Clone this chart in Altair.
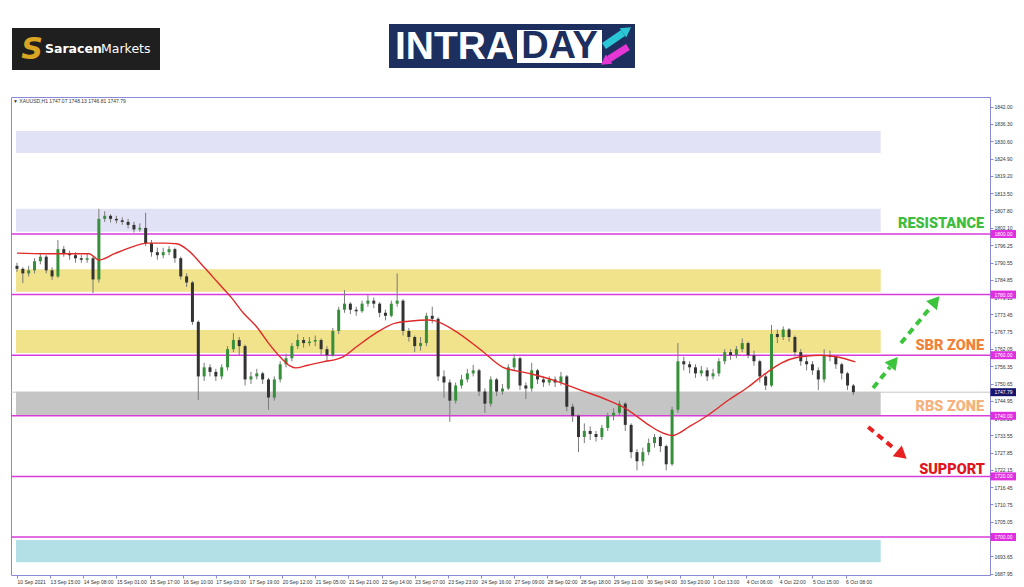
import altair as alt
import pandas as pd

# ---------------- data ----------------
x_labels = ["10 Sep 2021", "13 Sep 15:00", "14 Sep 08:00", "15 Sep 01:00", "15 Sep 17:00",
            "16 Sep 10:00", "17 Sep 03:00", "17 Sep 19:00", "20 Sep 12:00", "21 Sep 05:00",
            "21 Sep 21:00", "22 Sep 14:00", "23 Sep 07:00", "23 Sep 23:00", "24 Sep 16:00",
            "27 Sep 09:00", "28 Sep 02:00", "28 Sep 18:00", "29 Sep 11:00", "30 Sep 04:00",
            "30 Sep 20:00", "1 Oct 13:00", "4 Oct 06:00", "4 Oct 22:00", "5 Oct 15:00", "6 Oct 08:00"]
bars_per_label = 17
bars_per_candle = 3

y_ticks = [1842.00, 1836.30, 1830.60, 1824.90, 1819.20, 1813.50, 1807.80, 1802.10, 1796.25,
           1790.55, 1784.85, 1779.15, 1773.45, 1767.75, 1762.05, 1756.35, 1750.65, 1744.95,
           1739.25, 1733.55, 1727.85, 1722.15, 1716.45, 1710.75, 1705.05, 1699.35, 1693.65, 1687.95]

first_open = 1789.5
closes = [1788.5, 1787, 1788, 1791, 1792.5, 1788, 1786, 1795, 1793.5, 1793,
          1792, 1791.5, 1792, 1785, 1805, 1806, 1805, 1804.5, 1804, 1803,
          1801.5, 1802, 1797, 1794, 1793, 1794, 1795, 1792, 1786, 1784,
          1771, 1753, 1756, 1754.5, 1753, 1756, 1762, 1765, 1763, 1752,
          1753, 1754, 1752, 1746, 1752, 1757, 1759, 1763, 1765, 1764,
          1764.5, 1765, 1762, 1760, 1768, 1775, 1777, 1775, 1774.5, 1777,
          1778, 1777, 1774, 1773, 1777, 1778, 1768, 1766, 1763, 1764,
          1773, 1772, 1753, 1751, 1745, 1750, 1752, 1754, 1755, 1748,
          1744, 1752, 1748, 1749, 1756, 1759, 1750, 1749, 1755, 1752,
          1751, 1752, 1751, 1753, 1743, 1740, 1733, 1735, 1734, 1733,
          1736, 1740, 1741, 1744, 1737, 1728, 1725, 1728, 1731, 1733,
          1730, 1724, 1742, 1758, 1757, 1756, 1754, 1755, 1753, 1754,
          1758, 1761, 1760, 1762, 1764, 1760, 1758, 1753, 1750, 1767,
          1766, 1768.5, 1766, 1761, 1758, 1757, 1755, 1752, 1760, 1759.5,
          1757, 1754, 1750, 1747.79]
highs = [1790.5, 1789, 1789.5, 1792, 1793.8, 1793, 1789, 1798, 1796, 1794.5,
         1794, 1793, 1793.5, 1792.5, 1808.3, 1807.5, 1806.5, 1806, 1805.5, 1805,
         1804, 1803.5, 1807, 1798, 1795.5, 1795.5, 1796, 1795.5, 1792.5, 1787,
         1784.5, 1771.5, 1757.5, 1757, 1755.5, 1757, 1763, 1767.3, 1766, 1763.5,
         1754.5, 1755.5, 1754.5, 1752.5, 1753, 1758, 1760.5, 1764, 1767, 1766,
         1766, 1766.5, 1765.5, 1763, 1769, 1776, 1781.5, 1777.5, 1776, 1778,
         1779.8, 1779, 1777.5, 1775, 1778, 1787, 1778.5, 1769, 1766.5, 1766,
         1774, 1776, 1772.5, 1755, 1752, 1751, 1753.5, 1755.5, 1756.8, 1755.5,
         1749, 1753, 1752.5, 1750.5, 1757, 1760.3, 1759.5, 1751, 1757.5, 1755.5,
         1753, 1753, 1753, 1754.5, 1753.5, 1744, 1740.5, 1737.5, 1736.5, 1735,
         1737, 1741, 1742.5, 1745, 1744.5, 1737.5, 1729, 1729.5, 1732.5, 1734,
         1733.5, 1730.5, 1743, 1764, 1759.5, 1758, 1757, 1756.5, 1756, 1755.5,
         1759, 1762, 1762, 1763, 1765.5, 1764.5, 1761.5, 1758.5, 1754, 1770,
         1768.5, 1769.5, 1769, 1766.5, 1762, 1759.5, 1758, 1756, 1762, 1761.5,
         1760, 1757.5, 1754.5, 1750.5]
lows = [1787.5, 1783.8, 1786, 1787, 1790, 1787, 1784.8, 1785.5, 1792.5, 1791.5,
        1790.5, 1790.5, 1790.5, 1780.5, 1784, 1804, 1803.8, 1803.5, 1803, 1801.8,
        1800.5, 1800.8, 1796, 1792.5, 1791.5, 1792, 1793, 1790.5, 1785, 1782.5,
        1770, 1745.2, 1751.5, 1753, 1751.5, 1752, 1755, 1761, 1760, 1750,
        1750.5, 1752, 1750.5, 1742, 1745, 1751, 1756, 1758, 1762, 1762.5,
        1763, 1763, 1760, 1758, 1759.5, 1767, 1774, 1773.5, 1773, 1774,
        1776, 1775.5, 1772.5, 1771.5, 1772.5, 1776, 1766.5, 1764.5, 1761, 1761.5,
        1763, 1770.5, 1751.5, 1746, 1738, 1744, 1749, 1751, 1753, 1746.5,
        1741, 1743, 1746.5, 1747, 1748.5, 1755, 1748.5, 1745.5, 1748, 1750.5,
        1749.5, 1750, 1749.5, 1750, 1741.5, 1738, 1728, 1731, 1732, 1731.5,
        1732, 1735, 1738.5, 1740, 1735, 1726, 1722, 1723.5, 1727, 1729.5,
        1728, 1722, 1723.5, 1741, 1755, 1754, 1752.5, 1753, 1751.5, 1752,
        1753, 1757, 1758.5, 1759, 1761, 1759, 1756.5, 1751, 1748.5, 1749.5,
        1764, 1765, 1764.5, 1759.5, 1756.5, 1755, 1753.5, 1748.5, 1751, 1758,
        1755.5, 1752, 1748.5, 1746.81]
assert len(closes) == len(highs) == len(lows)

ma_bar = [0, 15, 37, 42, 50, 58, 67, 76, 82, 88, 96, 103, 110, 116, 123, 129, 135, 140, 143,
          149, 157, 167, 174, 184, 194, 201, 211, 214, 224, 238, 249, 262, 275, 289, 303, 311,
          324, 329, 336, 345, 353, 365, 375, 384, 392, 401, 412, 421, 430]
ma_val = [1793.7, 1793.5, 1793.5, 1791.4, 1793.5, 1795.5, 1797, 1797, 1796.8, 1794.5, 1789,
          1784, 1779, 1774, 1769.3, 1764, 1759.4, 1756.5, 1755.8, 1756.7, 1757.8, 1759.4,
          1762.7, 1767.3, 1770.6, 1771.2, 1771.6, 1771.4, 1768.3, 1761.7, 1756.1, 1754.1,
          1751.8, 1748.5, 1745.2, 1742.9, 1737, 1735, 1733.5, 1736.5, 1739.6, 1745.2, 1749.5,
          1754, 1757.4, 1759.4, 1760, 1759.4, 1757.8]

zone_lo = [1826.7, 1800.7, 1780.9, 1760.7, 1740.3, 1691.7]
zone_hi = [1834.0, 1808.3, 1788.4, 1768.3, 1747.9, 1699.0]
zone_col = ["#e2e2f6", "#e2e2f6", "#f1e28c", "#f1e28c", "#c5c5c5", "#b3e0e7"]
zone_end_bar = 443

levels = [1800, 1780, 1760, 1740, 1720, 1700]
bid = 1747.79
header = "\u25bc XAUUSD,H1  1747.07 1748.13 1746.81 1747.79"

ann_text = ["RESISTANCE", "SBR ZONE", "RBS ZONE", "SUPPORT"]
ann_bar = [496, 496, 496, 496.5]
ann_price = [1803.3, 1763.0, 1742.9, 1722.1]
ann_col = ["#3dbd3d", "#f0823a", "#f6b17c", "#e0161c"]

arr_x0 = [453.4, 439.1, 436.6]
arr_y0 = [1764.0, 1749.2, 1736.3]
arr_x1 = [469.1, 447.8, 450.8]
arr_y1 = [1776.2, 1756.1, 1728.7]
head_x = [471.1, 449.8, 453.9]
head_y = [1777.9, 1757.8, 1727.1]
head_angle = [40, 39, 130]
arr_col = ["#3cc43c", "#3cc43c", "#e8201f"]

# ---------------- tables ----------------
candles = pd.DataFrame({
    "bar": [bars_per_candle * k for k in range(len(closes))],
    "open": [first_open] + closes[:-1],
    "close": closes,
    "high": highs,
    "low": lows,
})
candles["dir"] = ["up" if c >= o else "down" for o, c in zip(candles["open"], candles["close"])]
ma = pd.DataFrame({"bar": ma_bar, "ma": ma_val})
zones = pd.DataFrame({"x0": [-0.5] * len(zone_lo), "x1": [zone_end_bar] * len(zone_lo),
                      "lo": zone_lo, "hi": zone_hi, "col": zone_col})
lv = pd.DataFrame({"level": levels})
plabels = pd.DataFrame({"p": levels + [bid],
                        "lab": [f"{v:.2f}" for v in levels + [bid]],
                        "col": ["#e02fe0"] * len(levels) + ["#16166e"]})
ann = pd.DataFrame({"bar": ann_bar, "price": ann_price, "text": ann_text, "col": ann_col})
arrows = pd.DataFrame({"x0": arr_x0, "y0": arr_y0, "x1": arr_x1, "y1": arr_y1,
                       "hx": head_x, "hy": head_y, "ang": head_angle, "col": arr_col})

# ---------------- scales / axes ----------------
W, H = 979, 478
FRAME = "#8a8ad6"
xs = alt.Scale(domain=[-0.5, 496.5], nice=False, zero=False)
ys = alt.Scale(domain=[1687.46, 1845.21], nice=False, zero=False)
label_expr = "[" + ",".join(f"'{s}'" for s in x_labels) + "][round(datum.value/17)]"
x_axis = alt.Axis(values=[i * bars_per_label for i in range(len(x_labels))], labelExpr=label_expr,
                  labelAlign="left", labelFontSize=5, labelFont="Liberation Sans",
                  labelColor="#333333", tickSize=3, tickColor=FRAME, domain=False, grid=False,
                  labelPadding=1, title=None, labelOverlap=False, labelBound=False, labelFlush=False)
y_axis = alt.Axis(orient="right", values=y_ticks, format=".2f", labelFontSize=5,
                  labelFont="Liberation Sans", labelColor="#333333", tickSize=3, tickColor=FRAME,
                  domainColor=FRAME, grid=False, title=None, labelPadding=1,
                  labelOverlap=False, labelBound=False, labelFlush=False)


def X(field):
    return alt.X(field, scale=xs, axis=x_axis)


def Y(field):
    return alt.Y(field, scale=ys, axis=y_axis)


one = pd.DataFrame({"a": [0]})


def box(x1, x2, y1, y2, color, **kw):
    return alt.Chart(one).mark_rect(color=color, **kw).encode(
        x=alt.value(x1), x2=alt.value(x2), y=alt.value(y1), y2=alt.value(y2))


def txt(x, y, s, **kw):
    return alt.Chart(one).mark_text(text=s, **kw).encode(x=alt.value(x), y=alt.value(y))


def seg(x1, y1, x2, y2, color, w):
    return alt.Chart(one).mark_rule(color=color, strokeWidth=w).encode(
        x=alt.value(x1), y=alt.value(y1), x2=alt.value(x2), y2=alt.value(y2))


def head(x, y, ang, color, size):
    return alt.Chart(one).mark_point(shape="triangle-up", filled=True, size=size, angle=ang,
                                     color=color, opacity=1).encode(x=alt.value(x), y=alt.value(y))


# ---------------- layers ----------------
zone_layer = alt.Chart(zones).mark_rect().encode(
    x=X("x0:Q"), x2="x1:Q", y=Y("lo:Q"), y2="hi:Q", color=alt.Color("col:N", scale=None))

level_layer = alt.Chart(lv).mark_rule(color="#d83cd8", strokeWidth=1.5).encode(y=Y("level:Q"))

bid_layer = alt.Chart(pd.DataFrame({"p": [bid]})).mark_rule(color="#c8c8c8", strokeWidth=1).encode(
    y=Y("p:Q"))

wick_layer = alt.Chart(candles).mark_rule(color="#7a7a7a", strokeWidth=1).encode(
    x=X("bar:Q"), y=Y("low:Q"), y2="high:Q")

body_layer = alt.Chart(candles).mark_bar(width=3).encode(
    x=X("bar:Q"), y=Y("open:Q"), y2="close:Q",
    color=alt.Color("dir:N", scale=alt.Scale(domain=["up", "down"], range=["#368f3a", "#333333"]),
                    legend=None))

ma_layer = alt.Chart(ma).mark_line(color="#e02a2a", strokeWidth=1.4, interpolate="monotone").encode(
    x=X("bar:Q"), y=Y("ma:Q"))

ann_layer = alt.Chart(ann).mark_text(
    align="right", baseline="middle", fontSize=14.5, fontWeight=900, font="Roboto").encode(
    x=X("bar:Q"), y=Y("price:Q"), text="text:N", color=alt.Color("col:N", scale=None))

arrow_layer = alt.Chart(arrows).mark_rule(strokeWidth=4, strokeDash=[7, 5]).encode(
    x=X("x0:Q"), y=Y("y0:Q"), x2="x1:Q", y2="y1:Q", color=alt.Color("col:N", scale=None))

head_layer = alt.Chart(arrows).mark_point(shape="triangle-up", filled=True, size=200, opacity=1).encode(
    x=X("hx:Q"), y=Y("hy:Q"), angle=alt.Angle("ang:Q", scale=None),
    color=alt.Color("col:N", scale=None))

plabel_box = alt.Chart(plabels).mark_tick(orient="horizontal", size=26, thickness=8, opacity=1).encode(
    x=alt.value(992.5), y=Y("p:Q"), color=alt.Color("col:N", scale=None))

plabel_txt = alt.Chart(plabels).mark_text(fontSize=5, color="white", align="center",
                                          baseline="middle", font="Liberation Sans").encode(
    x=alt.value(992.5), y=Y("p:Q"), text="lab:N")

header_layer = txt(2, 4, header, fontSize=5, align="left", baseline="middle",
                   color="#333333", font="Liberation Sans")

# logos (above the plot frame)
logos = [
    box(1, 149, -69, -27, "#1f1f1f"),
    txt(21, -47, "S", fontSize=30, fontWeight="bold", fontStyle="italic", color="#d9a522",
        font="DejaVu Sans", align="center", baseline="middle"),
    txt(34, -48, "Saracen", fontSize=12.5, fontWeight="bold", color="white",
        font="DejaVu Sans", align="left", baseline="middle"),
    txt(90, -48, "Markets", fontSize=12.5, color="white",
        font="DejaVu Sans", align="left", baseline="middle"),
    box(378, 624, -73, -29, "#1c2f5e"),
    box(506, 591, -67, -34, "#ffffff"),
    txt(384, -50, "INTRA", fontSize=39, fontWeight="bold", color="white",
        font="Liberation Sans", align="left", baseline="middle"),
    txt(548.5, -50, "DAY", fontSize=38, fontWeight="bold", color="#1c2f5e",
        font="Liberation Sans", align="center", baseline="middle"),
    seg(593, -51, 612, -64, "#2bc6d6", 7),
    head(616, -67, 55, "#2bc6d6", 130),
    seg(617, -50, 598, -38, "#e636d6", 7),
    head(594, -35, 235, "#e636d6", 130),
]

chart = alt.layer(
    zone_layer, level_layer, bid_layer, wick_layer, body_layer, ma_layer,
    ann_layer, arrow_layer, head_layer, plabel_box, plabel_txt, header_layer, *logos
).properties(
    width=W, height=H,
    autosize=alt.AutoSizeParams(type="none"),
    padding={"left": 3, "top": 89, "right": 26, "bottom": 10},
).configure(background="white").configure_view(stroke=FRAME, strokeWidth=1)

chart.save("out.html", embed_options={"renderer": "svg", "actions": False})
